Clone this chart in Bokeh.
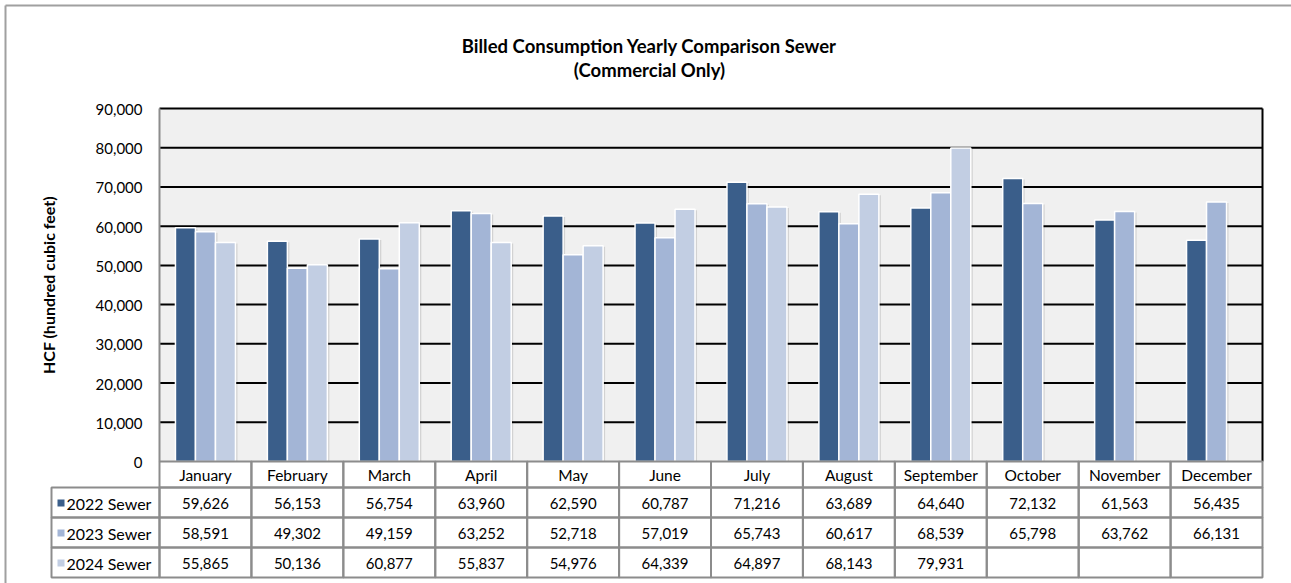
import math
from bokeh.plotting import figure
from bokeh.models import Range1d, ColumnDataSource
from bokeh.core.properties import value
from bokeh.embed import file_html
from bokeh.resources import INLINE

# ---------------- data ----------------
months = ["January", "February", "March", "April", "May", "June", "July",
          "August", "September", "October", "November", "December"]
series_names = ["2022 Sewer", "2023 Sewer", "2024 Sewer"]
sewer_2022 = [59626, 56153, 56754, 63960, 62590, 60787, 71216, 63689, 64640, 72132, 61563, 56435]
sewer_2023 = [58591, 49302, 49159, 63252, 52718, 57019, 65743, 60617, 68539, 65798, 63762, 66131]
sewer_2024 = [55865, 50136, 60877, 55837, 54976, 64339, 64897, 68143, 79931, None, None, None]
y_ticks = [0, 10000, 20000, 30000, 40000, 50000, 60000, 70000, 80000, 90000]
title_lines = ["Billed Consumption Yearly Comparison Sewer", "(Commercial Only)"]
y_label = "HCF (hundred cubic feet)"

series = [sewer_2022, sewer_2023, sewer_2024]
colors = ["#3A5E8A", "#A3B5D6", "#C2CEE3"]

# ---------------- layout (page pixels) ----------------
W, H = 1291, 583
FL, FR, FT, FB = 159, 1262, 108, 461        # plot area on the page
NCAT = len(months)
YMAX = y_ticks[-1]

def px2x(px):
    return (px - FL) * NCAT / (FR - FL)

def py2y(py):
    return (FB - py) * YMAX / (FB - FT)

FONT = "Lato"
TABLE_GREY = "#8C8C8C"

p = figure(width=W, height=H, x_range=Range1d(px2x(0), px2x(W)), y_range=Range1d(py2y(H), py2y(0)),
           output_backend="svg", toolbar_location=None, min_border=0)
p.axis.visible = False
p.grid.visible = False
p.outline_line_color = None
p.background_fill_color = "white"
p.border_fill_color = "white"

# plot area background
p.quad(left=[0], right=[NCAT], bottom=[y_ticks[0]], top=[YMAX], fill_color="#F0F0F0", line_color=None)

# horizontal gridlines
grid_t = y_ticks[1:]
p.segment(x0=[0] * len(grid_t), x1=[NCAT] * len(grid_t), y0=grid_t, y1=grid_t,
          line_color="black", line_width=2)

# ---------------- bars ----------------
offset = 20 * NCAT / (FR - FL)
bar_w = offset
sdx = 2 * NCAT / (FR - FL)
sdy = 1 * YMAX / (FB - FT)
for j, vals in enumerate(series):
    xs = [i + 0.5 + (j - 1) * offset for i, v in enumerate(vals) if v is not None]
    tops = [v for v in vals if v is not None]
    src = ColumnDataSource(dict(x=[x + sdx for x in xs], top=[t - sdy for t in tops]))
    p.vbar(x="x", top="top", width=bar_w, source=src, fill_color="black",
           fill_alpha=0.12, line_color=None)
for j, vals in enumerate(series):
    xs = [i + 0.5 + (j - 1) * offset for i, v in enumerate(vals) if v is not None]
    tops = [v for v in vals if v is not None]
    src = ColumnDataSource(dict(x=xs, top=tops))
    p.vbar(x="x", top="top", width=bar_w, source=src, fill_color=colors[j],
           line_color="white", line_width=1.5)

# frame edges: grey value axis on the left, black border on the right
p.segment(x0=[0], x1=[0], y0=[0], y1=[YMAX], line_color=TABLE_GREY, line_width=2)
p.segment(x0=[NCAT], x1=[NCAT], y0=[0], y1=[YMAX], line_color="black", line_width=2)

# value-axis tick labels (placed at tick values via the y scale)
p.text(x=[px2x(142)] * len(y_ticks), y=y_ticks, text=[f"{t:,}" for t in y_ticks],
       text_align="right", text_baseline="middle", text_font=value(FONT),
       text_font_size="15px", text_color="black", y_offset=1)
p.text(x=[px2x(48)], y=[YMAX / 2], text=[y_label], angle=math.pi / 2,
       text_align="center", text_baseline="middle", text_font=value(FONT),
       text_font_style="bold", text_font_size="16px", text_color="black")

# ---------------- title ----------------
p.text(x=[px2x(649)] * 2, y=[py2y(45), py2y(69)], text=title_lines,
       text_align="center", text_baseline="alphabetic", text_font=value(FONT),
       text_font_style="bold", text_font_size="18.5px", text_color="black")

# ---------------- data table ----------------
row_edges = [461, 487, 517, 547, 577]
leg_left = 51
cl, cr, ct, cb = [], [], [], []
for r in range(4):
    t, b = py2y(row_edges[r]), py2y(row_edges[r + 1])
    for i in range(NCAT):
        cl.append(i); cr.append(i + 1); ct.append(t); cb.append(b)
    if r > 0:
        cl.append(px2x(leg_left)); cr.append(0); ct.append(t); cb.append(b)
p.quad(left=cl, right=cr, top=ct, bottom=cb, fill_alpha=0, line_color=TABLE_GREY, line_width=2)

hc = (row_edges[0] + row_edges[1]) / 2
p.text(x=[i + 0.5 for i in range(NCAT)], y=[py2y(hc + 0.5)] * NCAT, text=months,
       text_align="center", text_baseline="middle",
       text_font=value(FONT), text_font_size="15.5px", text_color="black")

tx, ty, tt = [], [], []
for j, vals in enumerate(series):
    rc = (row_edges[j + 1] + row_edges[j + 2]) / 2
    for i, v in enumerate(vals):
        if v is not None:
            tx.append(i + 0.5); ty.append(py2y(rc + 0.5)); tt.append(f"{v:,}")
p.text(x=tx, y=ty, text=tt, text_align="center", text_baseline="middle",
       text_font=value(FONT), text_font_size="15px", text_color="black")

lx, ly, lt, ql, qr, qt, qb = [], [], [], [], [], [], []
for j, name in enumerate(series_names):
    rc = (row_edges[j + 1] + row_edges[j + 2]) / 2
    ql.append(px2x(57)); qr.append(px2x(64)); qt.append(py2y(rc - 3)); qb.append(py2y(rc + 4))
    lx.append(px2x(66)); ly.append(py2y(rc + 0.5)); lt.append(name)
p.quad(left=ql, right=qr, top=qt, bottom=qb, fill_color=colors, line_color=None)
p.text(x=lx, y=ly, text=lt, text_align="left", text_baseline="middle",
       text_font=value(FONT), text_font_size="16px", text_color="black")

# outer chart border (top and left visible)
p.segment(x0=[px2x(5), px2x(5)], x1=[px2x(5), px2x(W + 10)],
          y0=[py2y(H + 10), py2y(5)], y1=[py2y(5), py2y(5)],
          line_color="#A0A0A0", line_width=2)

open("out.html", "w").write(file_html(p, INLINE))
